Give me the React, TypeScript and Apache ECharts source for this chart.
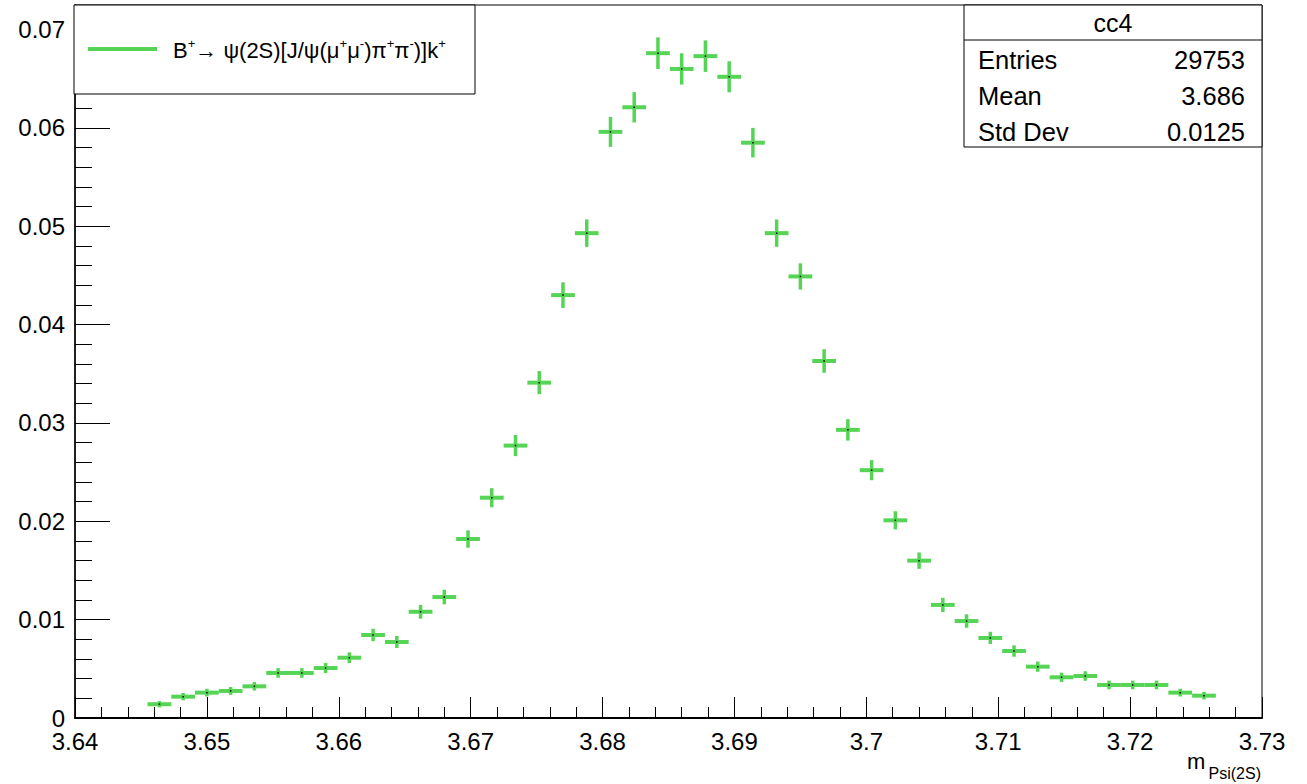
import React, { useEffect, useRef } from "react";
import * as echarts from "echarts";

// Bin centers of the histogram (m_Psi(2S))
const binCenters = [
  3.6464, 3.6482, 3.65, 3.6518, 3.6536, 3.6554, 3.6572, 3.659, 3.6608, 3.6626,
  3.6644, 3.6662, 3.668, 3.6698, 3.6716, 3.6734, 3.6752, 3.677, 3.6788, 3.6806,
  3.6824, 3.6842, 3.686, 3.6878, 3.6896, 3.6914, 3.6932, 3.695, 3.6968, 3.6986,
  3.7004, 3.7022, 3.704, 3.7058, 3.7076, 3.7094, 3.7112, 3.713, 3.7148, 3.7166,
  3.7184, 3.7202, 3.722, 3.7238, 3.7256,
];
const binWidth = 0.0018;

// Normalised bin contents
const binValues = [
  0.0014, 0.00217, 0.00258, 0.00275, 0.00322, 0.00458, 0.00458, 0.00508, 0.00613, 0.00844,
  0.00773, 0.0108, 0.0123, 0.0182, 0.0224, 0.0277, 0.0341, 0.043, 0.0493, 0.0596,
  0.0621, 0.0676, 0.066, 0.0673, 0.0652, 0.0585, 0.0493, 0.0449, 0.0363, 0.0293,
  0.0252, 0.0201, 0.016, 0.0115, 0.00986, 0.00814, 0.00681, 0.00522, 0.00414, 0.00427,
  0.00336, 0.00336, 0.00336, 0.00258, 0.00227,
];

// Bin errors (half length of the vertical bars)
const binErrors = [
  0.00022, 0.00027, 0.00029, 0.0003, 0.00033, 0.00039, 0.00039, 0.00041, 0.00045, 0.00053,
  0.00051, 0.0006, 0.00064, 0.00078, 0.00087, 0.00097, 0.00107, 0.0012, 0.00129, 0.00142,
  0.00144, 0.00151, 0.00149, 0.0015, 0.00148, 0.0014, 0.00129, 0.00123, 0.0011, 0.00099,
  0.00092, 0.00082, 0.00073, 0.00062, 0.00058, 0.00052, 0.00048, 0.00042, 0.00037, 0.00038,
  0.00034, 0.00034, 0.00034, 0.00029, 0.00028,
];

const statsTitle = "cc4";
const statsNames = ["Entries", "Mean", "Std Dev"];
const statsValues = ["29753", "3.686", "0.0125"];
const xAxisTitleMain = "m";
const xAxisTitleSub = "Psi(2S)";

const GREEN = "#56d456";
const FONT = "'Liberation Sans', Arial, Helvetica, sans-serif";

export default function App() {
  const ref = useRef<HTMLDivElement>(null);

  useEffect(() => {
    if (!ref.current) return;
    const chart = echarts.init(ref.current, null, { renderer: "svg" });
    const data = binCenters.map((c, i) => [c, binValues[i], binErrors[i]]);
    const half = binWidth / 2;

    const renderItem = (params: any, api: any) => {
      const x = api.value(0);
      const v = api.value(1);
      const e = api.value(2);
      const l = api.coord([x - half, v]);
      const r = api.coord([x + half, v]);
      const t = api.coord([x, v + e]);
      const b = api.coord([x, v - e]);
      return {
        type: "group",
        children: [
          { type: "line", shape: { x1: l[0], y1: l[1], x2: r[0], y2: r[1] }, style: { stroke: GREEN, lineWidth: 4 } },
          { type: "line", shape: { x1: t[0], y1: t[1] - 1, x2: b[0], y2: b[1] + 1 }, style: { stroke: GREEN, lineWidth: 3.5 } },
          { type: "rect", shape: { x: t[0] - 0.75, y: l[1] - 0.75, width: 1.5, height: 1.5 }, style: { fill: "#000" } },
        ],
      };
    };

    const option: any = {
      animation: false,
      backgroundColor: "#fff",
      textStyle: { fontFamily: FONT },
      grid: {
        left: 75, right: 45, top: 5, bottom: 66,
        show: true, borderColor: "#000", borderWidth: 1, backgroundColor: "#fff",
      },
      xAxis: {
        type: "value", min: 3.64, max: 3.73, interval: 0.01,
        axisLine: { show: true, onZero: false, lineStyle: { color: "#000", width: 2 } },
        axisTick: { show: true, inside: true, length: 21, lineStyle: { color: "#000", width: 1 } },
        minorTick: { show: true, splitNumber: 5, length: 11, lineStyle: { color: "#000", width: 1 } },
        splitLine: { show: false },
        axisLabel: { fontSize: 24, lineHeight: 22, color: "#000", margin: 12, fontFamily: FONT },
      },
      yAxis: {
        type: "value", min: 0, max: 0.0725, interval: 0.01,
        axisLine: { show: true, lineStyle: { color: "#000", width: 1.5 } },
        axisTick: { show: true, inside: true, length: 35, lineStyle: { color: "#000", width: 1 } },
        minorTick: { show: true, splitNumber: 5, length: 17, lineStyle: { color: "#000", width: 1 } },
        splitLine: { show: false },
        axisLabel: { fontSize: 24, lineHeight: 18, color: "#000", margin: 10, fontFamily: FONT, showMaxLabel: false },
      },
      series: [
        { type: "custom", renderItem, data, encode: { x: 0, y: 1 }, clip: false, z: 5 },
      ],
      graphic: [
        // legend box
        {
          type: "rect", z: 100,
          shape: { x: 74, y: 5, width: 401, height: 89 },
          style: { fill: "#fff", stroke: "#000", lineWidth: 1 },
        },
        {
          type: "line", z: 101,
          shape: { x1: 88, y1: 49, x2: 157, y2: 49 },
          style: { stroke: GREEN, lineWidth: 4 },
        },
        {
          type: "text", z: 101, x: 173, y: 50,
          style: {
            text: "{n|B}{s|+}{n|→ ψ(2S)[J/ψ(μ}{s|+}{n|μ}{s|-}{n|)π}{s|+}{n|π}{s|-}{n|)]k}{s|+}",
            fill: "#000",
            verticalAlign: "middle",
            rich: {
              n: { fontSize: 22, fontFamily: FONT, lineHeight: 26, fill: "#000" },
              s: { fontSize: 13, fontFamily: FONT, lineHeight: 14, verticalAlign: "top", fill: "#000" },
            },
          },
        },
        // stats box
        {
          type: "rect", z: 100,
          shape: { x: 964, y: 5, width: 298, height: 142 },
          style: { fill: "#fff", stroke: "#000", lineWidth: 1 },
        },
        {
          type: "line", z: 101,
          shape: { x1: 964, y1: 40, x2: 1262, y2: 40 },
          style: { stroke: "#000", lineWidth: 1 },
        },
        {
          type: "text", z: 101, x: 1113, y: 23,
          style: { text: statsTitle, fontSize: 25, fontFamily: FONT, fill: "#000", align: "center", verticalAlign: "middle" },
        },
        ...statsNames.map((n, i) => ({
          type: "text", z: 101, x: 978, y: 60 + i * 36,
          style: { text: n, fontSize: 25.5, fontFamily: FONT, fill: "#000", align: "left", verticalAlign: "middle" },
        })),
        ...statsValues.map((v, i) => ({
          type: "text", z: 101, x: 1245, y: 60 + i * 36,
          style: { text: v, fontSize: 25.5, fontFamily: FONT, fill: "#000", align: "right", verticalAlign: "middle" },
        })),
        // x axis title
        {
          type: "text", z: 101, x: 1187, y: 761,
          style: { text: xAxisTitleMain, fontSize: 22, fontFamily: FONT, fill: "#000", align: "left", verticalAlign: "middle" },
        },
        {
          type: "text", z: 101, x: 1261, y: 773,
          style: { text: xAxisTitleSub, fontSize: 16, fontFamily: FONT, fill: "#000", align: "right", verticalAlign: "middle" },
        },
      ],
    };

    chart.setOption(option);
    return () => chart.dispose();
  }, []);

  return (
    <div
      ref={ref}
      style={{ position: "fixed", left: 0, top: 0, width: 1307, height: 784, background: "#fff" }}
    />
  );
}
